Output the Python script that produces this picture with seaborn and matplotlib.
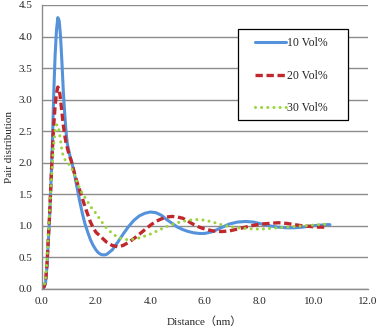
import numpy as np
import pandas as pd
import seaborn as sns
import matplotlib.pyplot as plt
from matplotlib.patches import Rectangle

x10 = [0.0, 0.1, 0.15, 0.2, 0.25, 0.3, 0.35, 0.4, 0.45, 0.5, 0.55, 0.6, 0.65, 0.7, 0.75, 0.8, 0.85, 0.9, 0.95,
       1.0, 1.05, 1.1, 1.2, 1.3, 1.4, 1.5, 1.6, 1.7, 1.8, 1.9, 2.0, 2.1, 2.2, 2.3, 2.4, 2.6, 2.8, 3.0, 3.2, 3.4,
       3.6, 3.8, 4.0, 4.2, 4.4, 4.6, 4.8, 5.0, 5.2, 5.4, 5.6, 5.8, 6.0, 6.3, 6.6, 6.9, 7.2, 7.5, 7.8, 8.1, 8.4,
       8.7, 9.0, 9.3, 9.6, 9.9, 10.2, 10.5, 10.6]
g10 = [0.0, 0.03, 0.1, 0.35, 0.75, 1.15, 1.7, 2.3, 3.1, 3.7, 4.1, 4.3, 4.25, 4.0, 3.6, 3.15, 2.8, 2.5, 2.3,
       2.2, 2.1, 2.03, 1.85, 1.62, 1.4, 1.2, 1.03, 0.9, 0.78, 0.69, 0.62, 0.57, 0.545, 0.54, 0.55, 0.62, 0.74,
       0.87, 0.99, 1.09, 1.16, 1.2, 1.22, 1.21, 1.17, 1.1, 1.04, 0.98, 0.94, 0.91, 0.89, 0.88, 0.88, 0.91, 0.97,
       1.03, 1.06, 1.07, 1.06, 1.03, 1.0, 0.98, 0.97, 0.97, 0.98, 1.0, 1.01, 1.02, 1.02]

x20 = [0.0, 0.1, 0.15, 0.2, 0.25, 0.3, 0.35, 0.4, 0.45, 0.5, 0.55, 0.6, 0.65, 0.7, 0.75, 0.8, 0.85, 0.9,
       1.0, 1.1, 1.2, 1.3, 1.4, 1.5, 1.6, 1.7, 1.8, 1.9, 2.0, 2.2, 2.4, 2.6, 2.8, 3.0, 3.2, 3.4, 3.6, 3.8,
       4.0, 4.2, 4.4, 4.6, 4.8, 5.0, 5.2, 5.4, 5.6, 5.8, 6.0, 6.3, 6.6, 6.9, 7.2, 7.5, 7.8, 8.1, 8.4, 8.7,
       9.0, 9.3, 9.6, 9.9, 10.2, 10.5]
g20 = [0.0, 0.04, 0.12, 0.38, 0.8, 1.2, 1.7, 2.2, 2.6, 2.9, 3.1, 3.2, 3.17, 3.0, 2.8, 2.6, 2.45, 2.32,
       2.15, 2.02, 1.85, 1.7, 1.57, 1.44, 1.3, 1.18, 1.06, 0.97, 0.9, 0.82, 0.74, 0.69, 0.67, 0.69, 0.74,
       0.8, 0.87, 0.94, 1.01, 1.07, 1.11, 1.14, 1.15, 1.14, 1.12, 1.07, 1.02, 0.98, 0.95, 0.92, 0.91, 0.92,
       0.95, 0.98, 1.01, 1.03, 1.04, 1.05, 1.04, 1.02, 1.0, 0.99, 0.98, 0.98]

x30 = [0.0, 0.05, 0.1, 0.15, 0.2, 0.25, 0.3, 0.35, 0.4, 0.45, 0.5, 0.55, 0.6, 0.65, 0.7, 0.75, 0.8, 0.9,
       1.0, 1.1, 1.2, 1.3, 1.4, 1.5, 1.6, 1.7, 1.8, 1.9, 2.0, 2.2, 2.4, 2.6, 2.8, 3.0, 3.2, 3.4, 3.6, 3.8,
       4.0, 4.2, 4.4, 4.6, 4.8, 5.0, 5.2, 5.4, 5.6, 5.8, 6.0, 6.3, 6.6, 6.9, 7.2, 7.5, 7.8, 8.1, 8.4, 8.7,
       9.0, 9.3, 9.6, 9.9, 10.2, 10.6]
g30 = [0.0, 0.02, 0.06, 0.18, 0.45, 0.85, 1.25, 1.65, 2.0, 2.3, 2.5, 2.6, 2.6, 2.5, 2.35, 2.2, 2.1, 2.02,
       1.98, 1.92, 1.82, 1.7, 1.6, 1.51, 1.45, 1.38, 1.31, 1.25, 1.2, 1.07, 0.96, 0.88, 0.82, 0.79, 0.78,
       0.79, 0.81, 0.84, 0.87, 0.91, 0.95, 0.99, 1.02, 1.05, 1.07, 1.09, 1.1, 1.1, 1.09, 1.06, 1.02, 0.99,
       0.97, 0.96, 0.95, 0.95, 0.96, 0.97, 0.98, 0.99, 1.0, 1.01, 1.02, 1.03]

labels = ["10 Vol%", "20 Vol%", "30 Vol%"]
xticks = [0, 2, 4, 6, 8, 10, 12]
yticks = [0, 0.5, 1, 1.5, 2, 2.5, 3, 3.5, 4, 4.5]

sns.set_style("white")
plt.rcParams['font.family'] = ['Liberation Serif', 'Noto Sans CJK SC', 'DejaVu Sans']
fs = 8

W, H = 378, 329
fig = plt.figure(figsize=(W / 100, H / 100), dpi=100)
ax = fig.add_axes([41.5 / W, 1 - 289 / H, 326.5 / W, 284 / H])

ax.grid(axis='y', color='#8c8c8c', lw=1.0)
ax.set_axisbelow(True)

sns.lineplot(x=x10, y=g10, ax=ax, color='#5592dc', lw=2.2, label=labels[0])
sns.lineplot(x=x20, y=g20, ax=ax, color='#c0282d', lw=2.4, label=labels[1])
sns.lineplot(x=x30, y=g30, ax=ax, color='#9bd33a', lw=2.2, label=labels[2])
lines = ax.get_lines()
lines[1].set_dashes([2.2, 1.1])
lines[2].set_dashes([0.01, 2.0])
lines[2].set_dash_capstyle('round')

ax.set_xlim(0, 12)
ax.set_ylim(0, 4.5)
ax.set_xticks(xticks)
ax.set_yticks(yticks)
ax.set_xticklabels([f"{t:.1f}" for t in xticks])
ax.set_yticklabels([f"{t:.1f}" for t in yticks])
for s in ['top', 'right']:
    ax.spines[s].set_visible(False)
for s in ['left', 'bottom']:
    ax.spines[s].set_color('#8c8c8c')
    ax.spines[s].set_linewidth(1.0)
ax.tick_params(axis='x', direction='out', length=4, color='#8c8c8c', width=1, labelsize=fs, pad=2)
ax.tick_params(axis='y', direction='out', length=3, color='#8c8c8c', width=1, labelsize=fs, pad=3.5)

ax.set_xlabel("Distance（nm）", fontsize=fs, labelpad=7)
ax.set_ylabel("Pair distribution", fontsize=fs, labelpad=3)

# legend frame drawn separately so the handles can sit inset like the original
box = Rectangle((238 / W, 1 - 120 / H), 110 / W, 91 / H, transform=fig.transFigure,
                facecolor='white', edgecolor='black', lw=0.9, zorder=4.5, clip_on=False)
ax.add_artist(box)
leg = ax.legend(loc='upper left', bbox_to_anchor=(255 / W, 1 - 37 / H), bbox_transform=fig.transFigure,
                frameon=False, fontsize=8.5, handlelength=2.6, handletextpad=0.15,
                labelspacing=1.75, borderpad=0, borderaxespad=0)
leg.set_zorder(6)

fig.savefig("out.png", dpi=100)
